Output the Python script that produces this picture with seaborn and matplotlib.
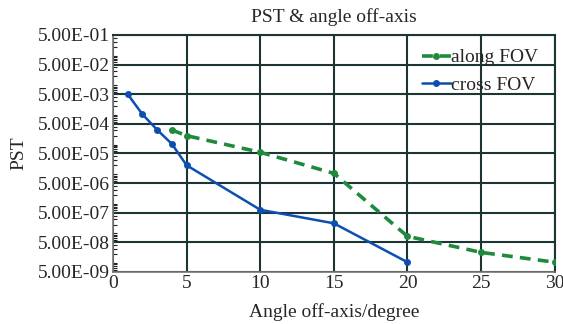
import numpy as np
import pandas as pd
import seaborn as sns
import matplotlib.pyplot as plt
from matplotlib.ticker import FixedLocator, LogLocator, NullFormatter

# values
along_x = [4, 5, 10, 15, 20, 25, 30]
along_y = [3.1e-4, 2.0e-4, 5.5e-5, 1.07e-5, 8.0e-8, 2.3e-8, 1.07e-8]
cross_x = [1, 2, 3, 4, 5, 10, 15, 20]
cross_y = [5.0e-3, 1.05e-3, 3.15e-4, 1.05e-4, 2.0e-5, 6.3e-7, 2.2e-7, 1.07e-8]
y_ticks = [5e-1, 5e-2, 5e-3, 5e-4, 5e-5, 5e-6, 5e-7, 5e-8, 5e-9]
y_labels = ["5.00E-01", "5.00E-02", "5.00E-03", "5.00E-04", "5.00E-05",
            "5.00E-06", "5.00E-07", "5.00E-08", "5.00E-09"]
x_ticks = [0, 5, 10, 15, 20, 25, 30]

sns.set_style("white")
plt.rcParams['font.family'] = ['Liberation Serif', 'DejaVu Serif']

fig = plt.figure(figsize=(5.63, 3.24), dpi=100)
ax = fig.add_axes([0.2007, 0.1605, 0.7845, 0.7315])

grid_c = "#1c3434"
green = "#1e8a3c"
blue = "#0c4fb0"
fs = 14

along = pd.DataFrame({"x": along_x, "y": along_y})
cross = pd.DataFrame({"x": cross_x, "y": cross_y})

sns.lineplot(data=along, x="x", y="y", ax=ax, color=green, linewidth=2.6,
             linestyle=(0, (3, 2)), marker="o", markersize=5,
             markeredgewidth=0, label="along FOV", zorder=3)
sns.lineplot(data=cross, x="x", y="y", ax=ax, color=blue, linewidth=1.8,
             marker="o", markersize=5, markeredgewidth=0,
             label="cross FOV", zorder=3)

ax.set_yscale("log")
ax.set_ylim(5e-9, 5e-1)
ax.set_xlim(0, 30)
ax.yaxis.set_major_locator(FixedLocator(y_ticks))
ax.set_yticklabels(y_labels)
ax.yaxis.set_minor_locator(LogLocator(base=10, subs=np.arange(1, 10), numticks=30))
ax.yaxis.set_minor_formatter(NullFormatter())
ax.set_xticks(x_ticks)

ax.grid(True, which="major", color=grid_c, linewidth=1.5)
ax.tick_params(axis="both", which="major", labelsize=fs, length=0, pad=2)
ax.tick_params(axis="y", which="minor", direction="in", length=3,
               width=0.8, color="#222222", left=True)
for side in ["left", "bottom"]:
    ax.spines[side].set_color("#777777")
    ax.spines[side].set_linewidth(1.2)
for side in ["top", "right"]:
    ax.spines[side].set_color(grid_c)
    ax.spines[side].set_linewidth(1.5)

ax.set_title("PST & angle off-axis", fontsize=fs, pad=9)
ax.set_xlabel("Angle off-axis/degree", fontsize=fs, labelpad=8)
ax.set_ylabel("PST", fontsize=fs, labelpad=8)

leg = ax.legend(loc="upper right", bbox_to_anchor=(0.98, 0.975),
                frameon=False, fontsize=fs, handlelength=1.5,
                handletextpad=0.0, labelspacing=0.5, borderaxespad=0)

fig.savefig("out.png", dpi=100)
